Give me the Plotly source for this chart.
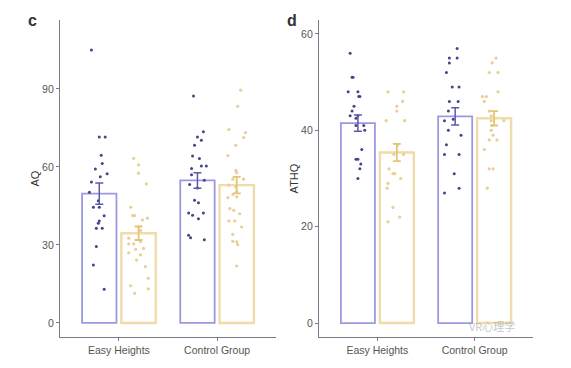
import plotly.graph_objects as go

# ---------------- data ----------------
categories = ["Easy Heights", "Control Group"]

# Panel c : AQ
aq_means_vr = [49.7, 54.8]
aq_means_ctl = [34.5, 53.0]
aq_se_vr = [4.1, 3.0]
aq_se_ctl = [2.6, 3.2]

aq_eh_vr = [105, 71.5, 71.5, 64.5, 61.3, 59.2, 57.4, 56.2, 54.2, 50.3, 47, 44.5, 44.5,
            41.2, 39.2, 38.3, 36.4, 36.4, 29.4, 22.3, 13]
aq_eh_vr_jit = [-0.08, 0, 0.06, 0.02, 0.03, -0.04, 0.08, 0.01, -0.08, -0.1, -0.01, -0.06, 0,
                0.05, 0, -0.01, -0.03, 0.03, -0.03, -0.06, 0.05]
aq_eh_ctl = [63.3, 60.8, 57.6, 53.5, 44.5, 41.3, 41.3, 40.3, 39.6, 37, 35.6, 32.6, 31.3,
             30.4, 30.4, 28.7, 28.3, 27, 26.2, 24.2, 21.7, 17.2, 14.3, 13.1, 11.4]
aq_eh_ctl_jit = [-0.05, 0, 0, 0.08, -0.08, -0.06, -0.04, 0.09, 0.04, 0, 0.02, -0.1, 0.02,
                 -0.05, -0.1, 0.05, -0.03, -0.1, 0.02, -0.02, 0.07, 0.1, -0.08, 0.1, -0.04]
aq_cg_vr = [87.3, 73.5, 71.5, 70.3, 68.3, 64.2, 63.2, 60.4, 60.4, 59.4, 57, 54.9, 53.2,
            51.9, 47.2, 46.2, 42.3, 41.4, 42.3, 40.1, 33.7, 32.8, 32]
aq_cg_vr_jit = [-0.04, 0.06, 0, 0.04, -0.03, -0.05, 0.02, 0.04, 0.09, -0.06, -0.06, 0.07, -0.08,
                0, -0.03, 0.01, -0.09, -0.05, 0.06, 0.01, -0.09, -0.07, 0.07]
aq_cg_ctl = [89.5, 83.3, 74.4, 73.2, 71.3, 68.3, 64.4, 58.7, 57.8, 55.3, 55.3, 53, 52.3,
             50.4, 49.4, 48.5, 48.2, 44, 43.3, 42, 39.2, 39.2, 36.9, 34.1, 31.4, 31.2, 30.1, 21.9]
aq_cg_ctl_jit = [0.04, 0.01, -0.08, 0.09, 0.07, -0.01, -0.09, -0.01, 0, -0.04, 0.07, -0.08, -0.01,
                 0, -0.04, 0, -0.09, -0.07, -0.03, 0.03, -0.08, -0.02, 0.05, -0.04, -0.04, 0, 0.01, 0]

# Panel d : ATHQ
athq_means_vr = [41.5, 42.9]
athq_means_ctl = [35.4, 42.5]
athq_se_vr = [1.7, 1.8]
athq_se_ctl = [1.8, 1.5]

athq_eh_vr = [56, 51, 51, 48, 48, 47, 47, 45, 44, 43, 43, 42.5, 41, 41, 40, 36, 34, 34, 33, 32, 30]
athq_eh_vr_jit = [-0.08, -0.06, -0.05, -0.1, 0, 0.01, 0.02, -0.04, -0.06, -0.08, 0, -0.02, 0.06,
                  -0.02, 0.07, 0.04, -0.02, 0, 0.03, 0.02, 0]
athq_eh_ctl = [48, 48, 46, 45, 44, 42, 42, 37, 35, 35, 32, 31, 31, 30, 29, 28, 24, 22, 21]
athq_eh_ctl_jit = [-0.09, 0.07, 0.06, 0, 0, -0.11, 0.08, 0.01, 0.07, -0.03, -0.08, -0.04, -0.02,
                   0.04, -0.09, -0.1, -0.04, 0.03, -0.09]
athq_cg_vr = [57, 55, 55, 54, 52, 49, 49, 46, 46, 44, 42, 42.3, 40, 39, 37, 35, 35, 31, 28, 27]
athq_cg_vr_jit = [0.02, -0.06, 0.02, -0.06, -0.09, -0.03, 0.04, -0.06, 0.03, -0.07, -0.11, -0.02,
                  -0.07, 0.06, -0.09, -0.11, 0.04, -0.01, 0.04, -0.11]
athq_cg_ctl = [55, 54, 52, 52, 48, 47, 47, 46, 44, 43, 42, 42, 41, 40, 39, 38, 38, 36, 32, 32, 28]
athq_cg_ctl_jit = [0.02, -0.02, -0.05, 0.04, 0.04, -0.12, -0.08, -0.1, -0.05, -0.03, -0.03, 0.1,
                   -0.02, -0.03, -0.01, 0.03, -0.05, -0.1, -0.05, -0.01, -0.07]

# ---------------- styling ----------------
BLUE_LINE = "#9a9ae0"
BLUE_PT = "#44448a"
BLUE_ERR = "#5a5aa8"
YEL_LINE = "#f0dcaa"
YEL_PT = "#e9cf95"
YEL_ERR = "#e3c57a"
AXIS_COL = "#7a7a8a"
FONT = "Liberation Sans, Arial, sans-serif"
OFF = 0.2
BW = 0.35

fig = go.Figure()


def add_panel(xa, ya, means_vr, means_ctl, se_vr, se_ctl, pts):
    xs_vr = [i - OFF for i in range(len(categories))]
    xs_ctl = [i + OFF for i in range(len(categories))]
    fig.add_trace(go.Bar(x=xs_vr, y=means_vr, width=BW, xaxis=xa, yaxis=ya,
                         marker=dict(color="rgba(255,255,255,0)", line=dict(color=BLUE_LINE, width=1.8)),
                         showlegend=False, hoverinfo="skip"))
    fig.add_trace(go.Bar(x=xs_ctl, y=means_ctl, width=BW, xaxis=xa, yaxis=ya,
                         marker=dict(color="rgba(255,255,255,0)", line=dict(color=YEL_LINE, width=2.4)),
                         showlegend=False, hoverinfo="skip"))
    for ci, (vr, vrj, ct, ctj) in enumerate(pts):
        fig.add_trace(go.Scatter(x=[ci - OFF + j for j in vrj], y=vr, mode="markers", xaxis=xa, yaxis=ya,
                                 marker=dict(color=BLUE_PT, size=3), showlegend=False))
        fig.add_trace(go.Scatter(x=[ci + OFF + j for j in ctj], y=ct, mode="markers", xaxis=xa, yaxis=ya,
                                 marker=dict(color=YEL_PT, size=3.2), showlegend=False))
    fig.add_trace(go.Scatter(x=xs_vr, y=means_vr, mode="markers", xaxis=xa, yaxis=ya,
                             marker=dict(size=0.1, color=BLUE_ERR),
                             error_y=dict(type="data", array=se_vr, color=BLUE_ERR, thickness=1.5, width=4),
                             showlegend=False))
    fig.add_trace(go.Scatter(x=xs_ctl, y=means_ctl, mode="markers", xaxis=xa, yaxis=ya,
                             marker=dict(size=0.1, color=YEL_ERR),
                             error_y=dict(type="data", array=se_ctl, color=YEL_ERR, thickness=1.8, width=4),
                             showlegend=False))


add_panel("x", "y", aq_means_vr, aq_means_ctl, aq_se_vr, aq_se_ctl,
          [(aq_eh_vr, aq_eh_vr_jit, aq_eh_ctl, aq_eh_ctl_jit),
           (aq_cg_vr, aq_cg_vr_jit, aq_cg_ctl, aq_cg_ctl_jit)])
add_panel("x2", "y2", athq_means_vr, athq_means_ctl, athq_se_vr, athq_se_ctl,
          [(athq_eh_vr, athq_eh_vr_jit, athq_eh_ctl, athq_eh_ctl_jit),
           (athq_cg_vr, athq_cg_vr_jit, athq_cg_ctl, athq_cg_ctl_jit)])

W, H = 571, 368
ydom = [1 - 337 / H, 1 - 20 / H]
tickfont = dict(family=FONT, size=10.5, color="#555555")
common_x = dict(range=[-0.6, 1.6], tickvals=[0, 1], ticktext=categories, showline=True,
                linecolor=AXIS_COL, linewidth=1.3, ticks="outside", ticklen=3, tickcolor=AXIS_COL,
                showgrid=False, zeroline=False, tickfont=tickfont)
common_y = dict(showline=True, linecolor=AXIS_COL, linewidth=1.3, ticks="outside", ticklen=3,
                tickcolor=AXIS_COL, showgrid=False, zeroline=False, tickfont=tickfont, domain=ydom)

fig.update_layout(
    width=W, height=H, margin=dict(l=0, r=0, t=0, b=0),
    paper_bgcolor="white", plot_bgcolor="white", barmode="overlay",
    font=dict(family=FONT),
    xaxis=dict(domain=[60 / W, 276 / W], anchor="y", **common_x),
    yaxis=dict(range=[-5.4, 116.5], tickvals=[0, 30, 60, 90], anchor="x",
               title=dict(text="AQ", font=dict(family=FONT, size=11, color="#333"), standoff=0), **common_y),
    xaxis2=dict(domain=[319 / W, 533 / W], anchor="y2", **common_x),
    yaxis2=dict(range=[-2.9, 62.9], tickvals=[0, 20, 40, 60], anchor="x2",
                title=dict(text="ATHQ", font=dict(family=FONT, size=11, color="#333"), standoff=0), **common_y),
    annotations=[
        dict(text="<b>c</b>", x=32 / W, y=1 - 20 / H, xref="paper", yref="paper", showarrow=False,
             xanchor="center", yanchor="middle", font=dict(family=FONT, size=16, color="#333")),
        dict(text="<b>d</b>", x=292 / W, y=1 - 21 / H, xref="paper", yref="paper", showarrow=False,
             xanchor="center", yanchor="middle", font=dict(family=FONT, size=16, color="#333")),
        dict(text="VR心理学", x=492 / W, y=1 - 326 / H, xref="paper", yref="paper", showarrow=False,
             xanchor="center", yanchor="middle",
             font=dict(family="Noto Sans CJK SC", size=11, color="rgba(150,150,160,0.55)")),
    ],
)

fig.write_html("out.html", post_script="document.body.style.margin='0';",
               config={"displayModeBar": False})
